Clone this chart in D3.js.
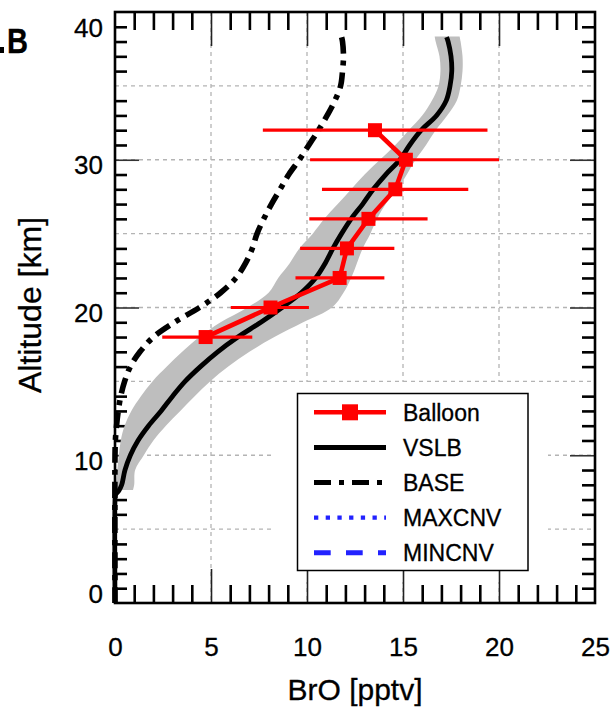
<!DOCTYPE html>
<html>
<head>
<meta charset="utf-8">
<script src="https://cdn.jsdelivr.net/npm/d3@7"></script>
<style>
body { margin: 0; background: #fff; }
text { font-family: "Liberation Sans", Arial, Helvetica, sans-serif; stroke: #000; stroke-width: 0.3px; }
</style>
</head>
<body>
<script>
'use strict';

// Balloon profile (altitude km, BrO pptv, error bar ends)
var balloonAlt = [18, 20, 22, 24, 26, 28, 30, 32];
var balloonBrO = [4.72, 8.1, 11.7, 12.08, 13.2, 14.6, 15.15, 13.54];
var balloonLo = [2.46, 6.03, 9.4, 9.64, 10.12, 10.78, 10.16, 7.7];
var balloonHi = [7.15, 10.1, 14.03, 14.55, 16.28, 18.4, 20.0, 19.4];

// VSLB model run
var vslbAlt = [0, 7.0, 7.3, 7.6, 8, 9, 10, 11, 12, 13, 14, 15, 16, 17, 18, 19, 20, 21, 22, 23, 24, 25, 26, 27, 28, 29, 30, 31, 32, 33, 34, 35, 36, 37, 38, 38.3];
var vslbBrO = [0, 0, 0.02, 0.2, 0.35, 0.52, 0.8, 1.2, 1.75, 2.4, 3.0, 3.65, 4.45, 5.35, 6.4, 7.6, 8.7, 9.7, 10.45, 10.95, 11.35, 11.8, 12.3, 12.9, 13.45, 14.1, 14.84, 15.35, 15.95, 16.75, 17.25, 17.45, 17.54, 17.5, 17.35, 17.27];

// VSLB spread (grey band)
var bandAlt = [7.65, 8, 9, 10, 11, 12, 13, 14, 15, 16, 17, 18, 19, 20, 21, 22, 23, 24, 25, 26, 27, 28, 29, 30, 31, 32, 33, 34, 35, 36, 37, 38, 38.35];
var bandLo = [0, 0.05, 0.12, 0.2, 0.3, 0.5, 0.85, 1.35, 1.95, 2.7, 3.5, 4.4, 5.5, 6.9, 8.0, 8.5, 9.1, 9.6, 10.3, 10.9, 11.6, 12.3, 13.0, 13.8, 14.6, 15.3, 16.0, 16.5, 16.85, 16.95, 16.9, 16.7, 16.65];
var bandHi = [0.94, 1.0, 1.05, 1.5, 2.0, 2.65, 3.4, 4.15, 4.95, 5.9, 7.0, 8.3, 9.8, 11.3, 11.9, 12.3, 12.6, 12.9, 13.3, 13.65, 14.1, 14.7, 15.2, 15.65, 16.2, 16.7, 17.3, 17.8, 18.0, 18.1, 18.1, 18.0, 17.95];

// BASE model run
var baseAlt = [0, 10, 11, 12, 13, 14, 15, 16, 17, 18, 19, 20, 21, 22, 23, 24, 25, 26, 27, 28, 29, 30, 31, 32, 33, 34, 35, 36, 37, 38, 38.3];
var baseBrO = [0, 0, 0.02, 0.08, 0.17, 0.3, 0.5, 0.8, 1.3, 2.0, 3.1, 4.4, 5.5, 6.3, 6.8, 7.15, 7.4, 7.75, 8.15, 8.6, 9.05, 9.6, 10.1, 10.6, 11.05, 11.45, 11.75, 11.85, 11.9, 11.85, 11.8];

var legendNames = ["Balloon", "VSLB", "BASE", "MAXCNV", "MINCNV"];
var xTickLabels = [0, 5, 10, 15, 20, 25];
var yTickLabels = [0, 10, 20, 30, 40];

var width = 613;
var height = 708;

var x = d3.scaleLinear().domain([0, 25]).range([115, 595]);
var y = d3.scaleLinear().domain([0, 40]).range([603, 12]);

var svg = d3.select("body").append("svg")
	.attr("width", width)
	.attr("height", height)
	.style("display", "block");

svg.append("rect").attr("width", width).attr("height", height).attr("fill", "#fff");

// dashed grid
var grid = svg.append("g")
	.attr("stroke", "#b4b4b4")
	.attr("stroke-width", 1.3)
	.attr("stroke-dasharray", "4,4");

grid.selectAll(".gx")
	.data(x.ticks(5).filter(function (d) { return d > 0 && d < 25; }))
	.enter().append("line")
	.attr("x1", x).attr("x2", x)
	.attr("y1", y(40)).attr("y2", y(0));

grid.selectAll(".gy")
	.data(y.ticks(8).filter(function (d) { return d > 0 && d < 40; }))
	.enter().append("line")
	.attr("y1", y).attr("y2", y)
	.attr("x1", x(0)).attr("x2", x(25));

// legend backing hides the grid under it
svg.append("rect")
	.attr("x", 275).attr("y", 382)
	.attr("width", 273).attr("height", 200)
	.attr("fill", "#fff");

// ticks, drawn inside the frame on all four sides
var xMinor = x.ticks(25).filter(function (d) { return d % 5 != 0; });
var xMajor = x.ticks(5).filter(function (d) { return d > 0 && d < 25; });
var yMinor = y.ticks(40).filter(function (d) { return d % 5 != 0; });
var yMajor = [10, 20, 30];

function tickGroup(axis, tx, ty, w, col) {
	var g = svg.append("g")
		.attr("transform", "translate(" + tx + "," + ty + ")")
		.call(axis);
	g.select(".domain").remove();
	g.selectAll("line").attr("stroke", col).attr("stroke-width", w);
	return g;
}

tickGroup(d3.axisBottom(x).tickValues(xMinor).tickSize(-18).tickFormat(""), 0, y(0), 2.6, "#000");
tickGroup(d3.axisTop(x).tickValues(xMinor).tickSize(-18).tickFormat(""), 0, y(40), 2.6, "#000");
tickGroup(d3.axisBottom(x).tickValues(xMajor).tickSize(-34).tickFormat(""), 0, y(0), 1.6, "#222");
tickGroup(d3.axisTop(x).tickValues(xMajor).tickSize(-34).tickFormat(""), 0, y(40), 1.6, "#222");
tickGroup(d3.axisLeft(y).tickValues(yMinor).tickSize(-12).tickFormat(""), x(0), 0, 2.6, "#000");
tickGroup(d3.axisRight(y).tickValues(yMinor).tickSize(-13).tickFormat(""), x(25), 0, 2.6, "#000");
tickGroup(d3.axisLeft(y).tickValues(yMajor).tickSize(-24).tickFormat(""), x(0), 0, 1.6, "#333");
tickGroup(d3.axisRight(y).tickValues(yMajor).tickSize(-25).tickFormat(""), x(25), 0, 1.6, "#333");

// grey spread band
var band = bandAlt.map(function (a, i) { return { alt: a, lo: bandLo[i], hi: bandHi[i] }; });
svg.append("path")
	.datum(band)
	.attr("fill", "#bebebe")
	.attr("d", d3.area()
		.y(function (d) { return y(d.alt); })
		.x0(function (d) { return x(d.lo); })
		.x1(function (d) { return x(d.hi); })
		.curve(d3.curveCatmullRom));

// model lines
var profile = d3.line()
	.x(function (d) { return x(d[1]); })
	.y(function (d) { return y(d[0]); })
	.curve(d3.curveCatmullRom);

svg.append("path")
	.datum(d3.zip(baseAlt, baseBrO))
	.attr("fill", "none")
	.attr("stroke", "#000")
	.attr("stroke-width", 5.6)
	.attr("stroke-dasharray", "16,7,5,7")
	.attr("d", profile);

svg.append("path")
	.datum(d3.zip(vslbAlt, vslbBrO))
	.attr("fill", "none")
	.attr("stroke", "#000")
	.attr("stroke-width", 4.8)
	.attr("d", profile);

// balloon error bars, line and markers
var balloon = balloonAlt.map(function (a, i) {
	return { alt: a, v: balloonBrO[i], lo: balloonLo[i], hi: balloonHi[i] };
});

svg.selectAll(".err")
	.data(balloon)
	.enter().append("line")
	.attr("x1", function (d) { return x(d.lo); })
	.attr("x2", function (d) { return x(d.hi); })
	.attr("y1", function (d) { return y(d.alt); })
	.attr("y2", function (d) { return y(d.alt); })
	.attr("stroke", "#ff0000")
	.attr("stroke-width", 3.2);

svg.append("path")
	.datum(balloon)
	.attr("fill", "none")
	.attr("stroke", "#ff0000")
	.attr("stroke-width", 4.6)
	.attr("d", d3.line()
		.x(function (d) { return x(d.v); })
		.y(function (d) { return y(d.alt); }));

svg.selectAll(".mk")
	.data(balloon)
	.enter().append("rect")
	.attr("x", function (d) { return x(d.v) - 7; })
	.attr("y", function (d) { return y(d.alt) - 7; })
	.attr("width", 14)
	.attr("height", 14)
	.attr("fill", "#ff0000");

// frame
svg.append("rect")
	.attr("x", x(0)).attr("y", y(40))
	.attr("width", x(25) - x(0)).attr("height", y(0) - y(40))
	.attr("fill", "none")
	.attr("stroke", "#000")
	.attr("stroke-width", 2.6);

// tick labels
var xl = svg.append("g")
	.attr("transform", "translate(0," + y(0) + ")")
	.call(d3.axisBottom(x).tickValues(xTickLabels).tickSize(0).tickPadding(35).tickFormat(d3.format("d")));
xl.select(".domain").remove();
xl.selectAll("text")
	.style("font-family", '"Liberation Sans", Arial, sans-serif')
	.style("font-size", "26px")
	.attr("fill", "#000");

svg.selectAll(".yl")
	.data(yTickLabels)
	.enter().append("text")
	.attr("x", 103)
	.attr("y", function (d) { return Math.min(Math.max(y(d) + 5, 27.5), 594) + 9.3; })
	.attr("text-anchor", "end")
	.style("font-size", "26px")
	.text(function (d) { return d; });

// axis titles
svg.append("text")
	.attr("transform", "translate(41,305) rotate(-90)")
	.attr("text-anchor", "middle")
	.style("font-size", "32px")
	.text("Altitude [km]");

svg.append("text")
	.attr("x", 355)
	.attr("y", 700)
	.attr("text-anchor", "middle")
	.style("font-size", "30px")
	.text("BrO [pptv]");

// panel letter
svg.append("text")
	.attr("x", 7).attr("y", 53)
	.attr("textLength", 21)
	.attr("lengthAdjust", "spacingAndGlyphs")
	.style("font-size", "35px")
	.style("font-weight", "bold")
	.text("B");
svg.append("rect").attr("x", 0).attr("y", 47).attr("width", 4).attr("height", 6).attr("fill", "#000");

// legend
var legendStyles = [
	{ color: "#ff0000", dash: null, w: 4.6 },
	{ color: "#000", dash: null, w: 5 },
	{ color: "#000", dash: "17,8,5,8", w: 5 },
	{ color: "#2222ff", dash: "4.3,7.4", w: 4.3 },
	{ color: "#2222ff", dash: "16.7,15.3", w: 5 }
];

svg.append("rect")
	.attr("x", 297.5).attr("y", 393.5)
	.attr("width", 230.5).attr("height", 177)
	.attr("fill", "#fff")
	.attr("stroke", "#000")
	.attr("stroke-width", 1.5);

var legend = svg.selectAll(".leg")
	.data(legendNames)
	.enter().append("g")
	.attr("transform", function (d, i) { return "translate(0," + (412.3 + i * 35.1) + ")"; });

legend.append("line")
	.attr("x1", 314).attr("x2", 386)
	.attr("y1", 0).attr("y2", 0)
	.attr("stroke", function (d, i) { return legendStyles[i].color; })
	.attr("stroke-width", function (d, i) { return legendStyles[i].w; })
	.attr("stroke-dasharray", function (d, i) { return legendStyles[i].dash; });

legend.filter(function (d, i) { return i == 0; })
	.append("rect")
	.attr("x", 342).attr("y", -8)
	.attr("width", 16).attr("height", 16)
	.attr("fill", "#ff0000");

legend.append("text")
	.attr("x", 403)
	.attr("y", 8.3)
	.style("font-size", "23px")
	.text(function (d) { return d; });
</script>
</body>
</html>
